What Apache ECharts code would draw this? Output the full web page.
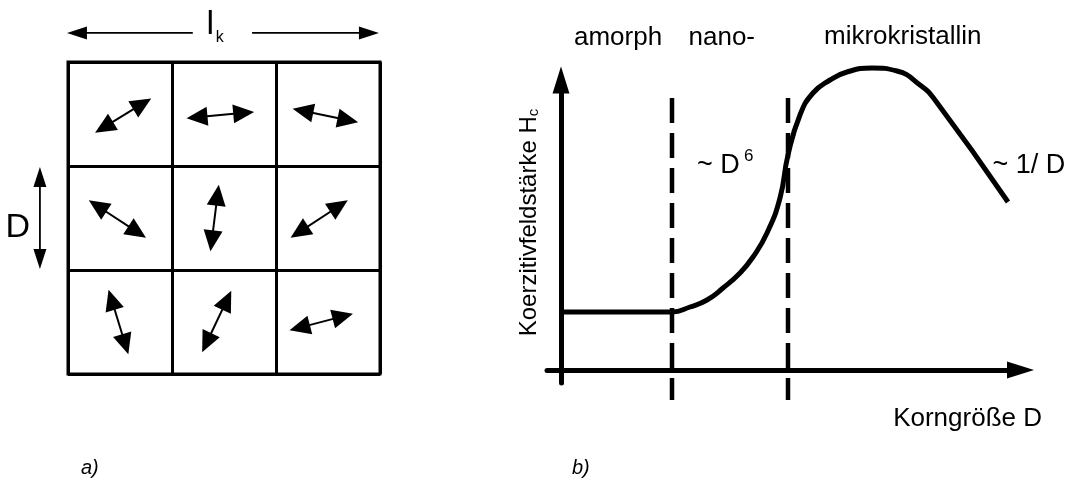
<!DOCTYPE html>
<html>
<head>
<meta charset="utf-8">
<script src="https://cdn.jsdelivr.net/npm/echarts@6/dist/echarts.min.js"></script>
<style>
html, body { margin: 0; padding: 0; background: #fff; }
#main { width: 1079px; height: 479px; }
</style>
</head>
<body>
<div id="main"></div>
<script>
// a) 3x3 Koerner, Pfeile der Magnetisierung (Zellkoordinaten, Zeile nach unten)
var cellCount = 3;
var cellArrowStart = [[0.26, 0.68], [1.14, 0.54], [2.16, 0.45],
                      [0.20, 1.33], [1.45, 1.18], [2.14, 1.69],
                      [0.39, 2.19], [1.57, 2.20], [2.13, 2.58]];
var cellArrowEnd = [[0.80, 0.35], [1.79, 0.48], [2.79, 0.58],
                    [0.75, 1.69], [1.37, 1.82], [2.69, 1.33],
                    [0.58, 2.81], [1.29, 2.79], [2.74, 2.42]];
// Masspfeile l_k (oben) und D (links)
var lkArrowY = -0.28;
var lkSpan = [-0.01, 2.99];
var lkGap = [1.20, 1.77];
var dArrowX = -0.27;
var dSpan = [1.01, 1.99];

// b) Koerzitivfeldstaerke ueber Korngroesse
var curveX = [0, 1.0, 1.11, 1.29, 1.46, 1.62, 1.79, 1.92, 2.06, 2.19, 2.27, 2.39, 2.52, 2.69, 2.86, 3.11, 3.36, 3.59, 3.74, 4.47];
var curveY = [0.58, 0.58, 0.58, 0.63, 0.70, 0.82, 0.97, 1.13, 1.37, 1.72, 2.15, 2.55, 2.77, 2.90, 2.98, 3.02, 2.99, 2.85, 2.70, 1.68];
var regionBounds = [1.11, 2.27];
var boundSpan = [2.72, -0.30];

var FONT = 'Liberation Sans, Arial, Helvetica, sans-serif';

function arrowRenderer(headLen, headWid, lw) {
	return function (params, api) {
		var p0 = api.coord([api.value(0), api.value(1)]);
		var p1 = api.coord([api.value(2), api.value(3)]);
		var hs = api.value(4), he = api.value(5);
		var dx = p1[0] - p0[0], dy = p1[1] - p0[1];
		var L = Math.sqrt(dx * dx + dy * dy);
		var ux = dx / L, uy = dy / L, nx = -uy, ny = ux;
		function head(tip, s) {
			var bx = tip[0] - s * ux * headLen, by = tip[1] - s * uy * headLen;
			return {
				type: 'polygon',
				shape: { points: [[tip[0], tip[1]], [bx + nx * headWid / 2, by + ny * headWid / 2], [bx - nx * headWid / 2, by - ny * headWid / 2]] },
				style: { fill: '#000' }
			};
		}
		var a = hs ? headLen * 0.6 : 0, b = he ? headLen * 0.6 : 0;
		var children = [{
			type: 'line',
			shape: { x1: p0[0] + ux * a, y1: p0[1] + uy * a, x2: p1[0] - ux * b, y2: p1[1] - uy * b },
			style: { stroke: '#000', lineWidth: lw }
		}];
		if (hs) children.push(head(p0, -1));
		if (he) children.push(head(p1, 1));
		return { type: 'group', children: children };
	};
}

var cellData = cellArrowStart.map(function (s, i) {
	return [s[0], s[1], cellArrowEnd[i][0], cellArrowEnd[i][1], 1, 1];
});
var dimData = [
	[lkGap[0], lkArrowY, lkSpan[0], lkArrowY, 0, 1],
	[lkGap[1], lkArrowY, lkSpan[1], lkArrowY, 0, 1],
	[dArrowX, dSpan[0], dArrowX, dSpan[1], 1, 1]
];

function txt(text, x, y, size, extra) {
	var st = { text: text, fontSize: size, fontFamily: FONT, fill: '#000', align: 'left', verticalAlign: 'middle' };
	for (var k in extra) st[k] = extra[k];
	return { type: 'text', x: x, y: y, style: st };
}

var chart = echarts.init(document.getElementById('main'));

var option = {
	backgroundColor: '#fff',
	animation: false,
	grid: [
		{ left: 68, top: 62, width: 312, height: 312, show: true, borderColor: '#000', borderWidth: 3, containLabel: false, outerBoundsMode: 'none' },
		{ left: 547, top: 80, width: 473.5, height: 303, containLabel: false, outerBoundsMode: 'none' }
	],
	xAxis: [
		{
			gridIndex: 0, type: 'value', min: 0, max: cellCount, interval: 1,
			axisLine: { show: false }, axisTick: { show: false }, axisLabel: { show: false },
			splitLine: { show: true, lineStyle: { color: '#000', width: 3 } }
		},
		{
			gridIndex: 1, type: 'value', min: -0.14, max: 4.595,
			axisLine: { onZero: true, symbol: ['none', 'triangle'], symbolSize: [17, 27], lineStyle: { color: '#000', width: 5 } },
			axisTick: { show: false }, axisLabel: { show: false }, splitLine: { show: false },
			name: 'Korngröße D', nameLocation: 'end', nameGap: 21.5,
			nameTextStyle: { fontSize: 26, fontFamily: FONT, color: '#000', align: 'right', verticalAlign: 'top', padding: [36, 0, 0, 0] }
		}
	],
	yAxis: [
		{
			gridIndex: 0, type: 'value', min: 0, max: cellCount, interval: 1, inverse: true,
			axisLine: { show: false }, axisTick: { show: false }, axisLabel: { show: false },
			splitLine: { show: true, lineStyle: { color: '#000', width: 3 } }
		},
		{
			gridIndex: 1, type: 'value', min: -0.13, max: 2.90,
			axisLine: { onZero: true, symbol: ['none', 'triangle'], symbolSize: [17, 27], lineStyle: { color: '#000', width: 5 } },
			axisTick: { show: false }, axisLabel: { show: false }, splitLine: { show: false }
		}
	],
	series: [
		{
			type: 'custom', xAxisIndex: 0, yAxisIndex: 0, clip: false,
			renderItem: arrowRenderer(21, 19, 2), data: cellData, silent: true
		},
		{
			type: 'custom', xAxisIndex: 0, yAxisIndex: 0, clip: false,
			renderItem: arrowRenderer(20, 13, 1.8), data: dimData, silent: true
		},
		{
			type: 'line', xAxisIndex: 1, yAxisIndex: 1, clip: false, symbol: 'none',
			lineStyle: { color: '#000', width: 4.5, type: [25, 10] },
			data: [[regionBounds[0], boundSpan[0]], [regionBounds[0], boundSpan[1]]]
		},
		{
			type: 'line', xAxisIndex: 1, yAxisIndex: 1, clip: false, symbol: 'none',
			lineStyle: { color: '#000', width: 4.5, type: [25, 10] },
			data: [[regionBounds[1], boundSpan[0]], [regionBounds[1], boundSpan[1]]]
		},
		{
			type: 'line', xAxisIndex: 1, yAxisIndex: 1, clip: false, symbol: 'none',
			smooth: 0.5,
			lineStyle: { color: '#000', width: 5, join: 'round' },
			data: curveX.map(function (x, i) { return [x, curveY[i]]; })
		}
	],
	graphic: [
		txt('l', 206.5, 25, 34),
		txt('k', 215.7, 37.7, 16),
		txt('D', 5.6, 228, 34),
		txt('a)', 81, 468, 20, { fontStyle: 'italic' }),
		txt('b)', 572, 468, 20, { fontStyle: 'italic' }),
		txt('amorph', 574, 37.6, 26),
		txt('nano-', 688.5, 37.6, 26),
		txt('mikrokristallin', 824, 36.4, 26),
		txt('~ D', 697, 165.5, 27),
		txt('6', 744, 156.4, 17),
		txt('~ 1/ D', 992.5, 165.5, 27),
		{
			type: 'text', x: 529.7, y: 222.5, rotation: Math.PI / 2,
			style: {
				text: 'Koerzitivfeldstärke H{c|c}', fontSize: 24, fontFamily: FONT, fill: '#000',
				align: 'center', verticalAlign: 'middle',
				rich: { c: { fontSize: 15, fontFamily: FONT, verticalAlign: 'bottom' } }
			}
		}
	]
};

chart.setOption(option);
window.onresize = chart.resize;
</script>
</body>
</html>
